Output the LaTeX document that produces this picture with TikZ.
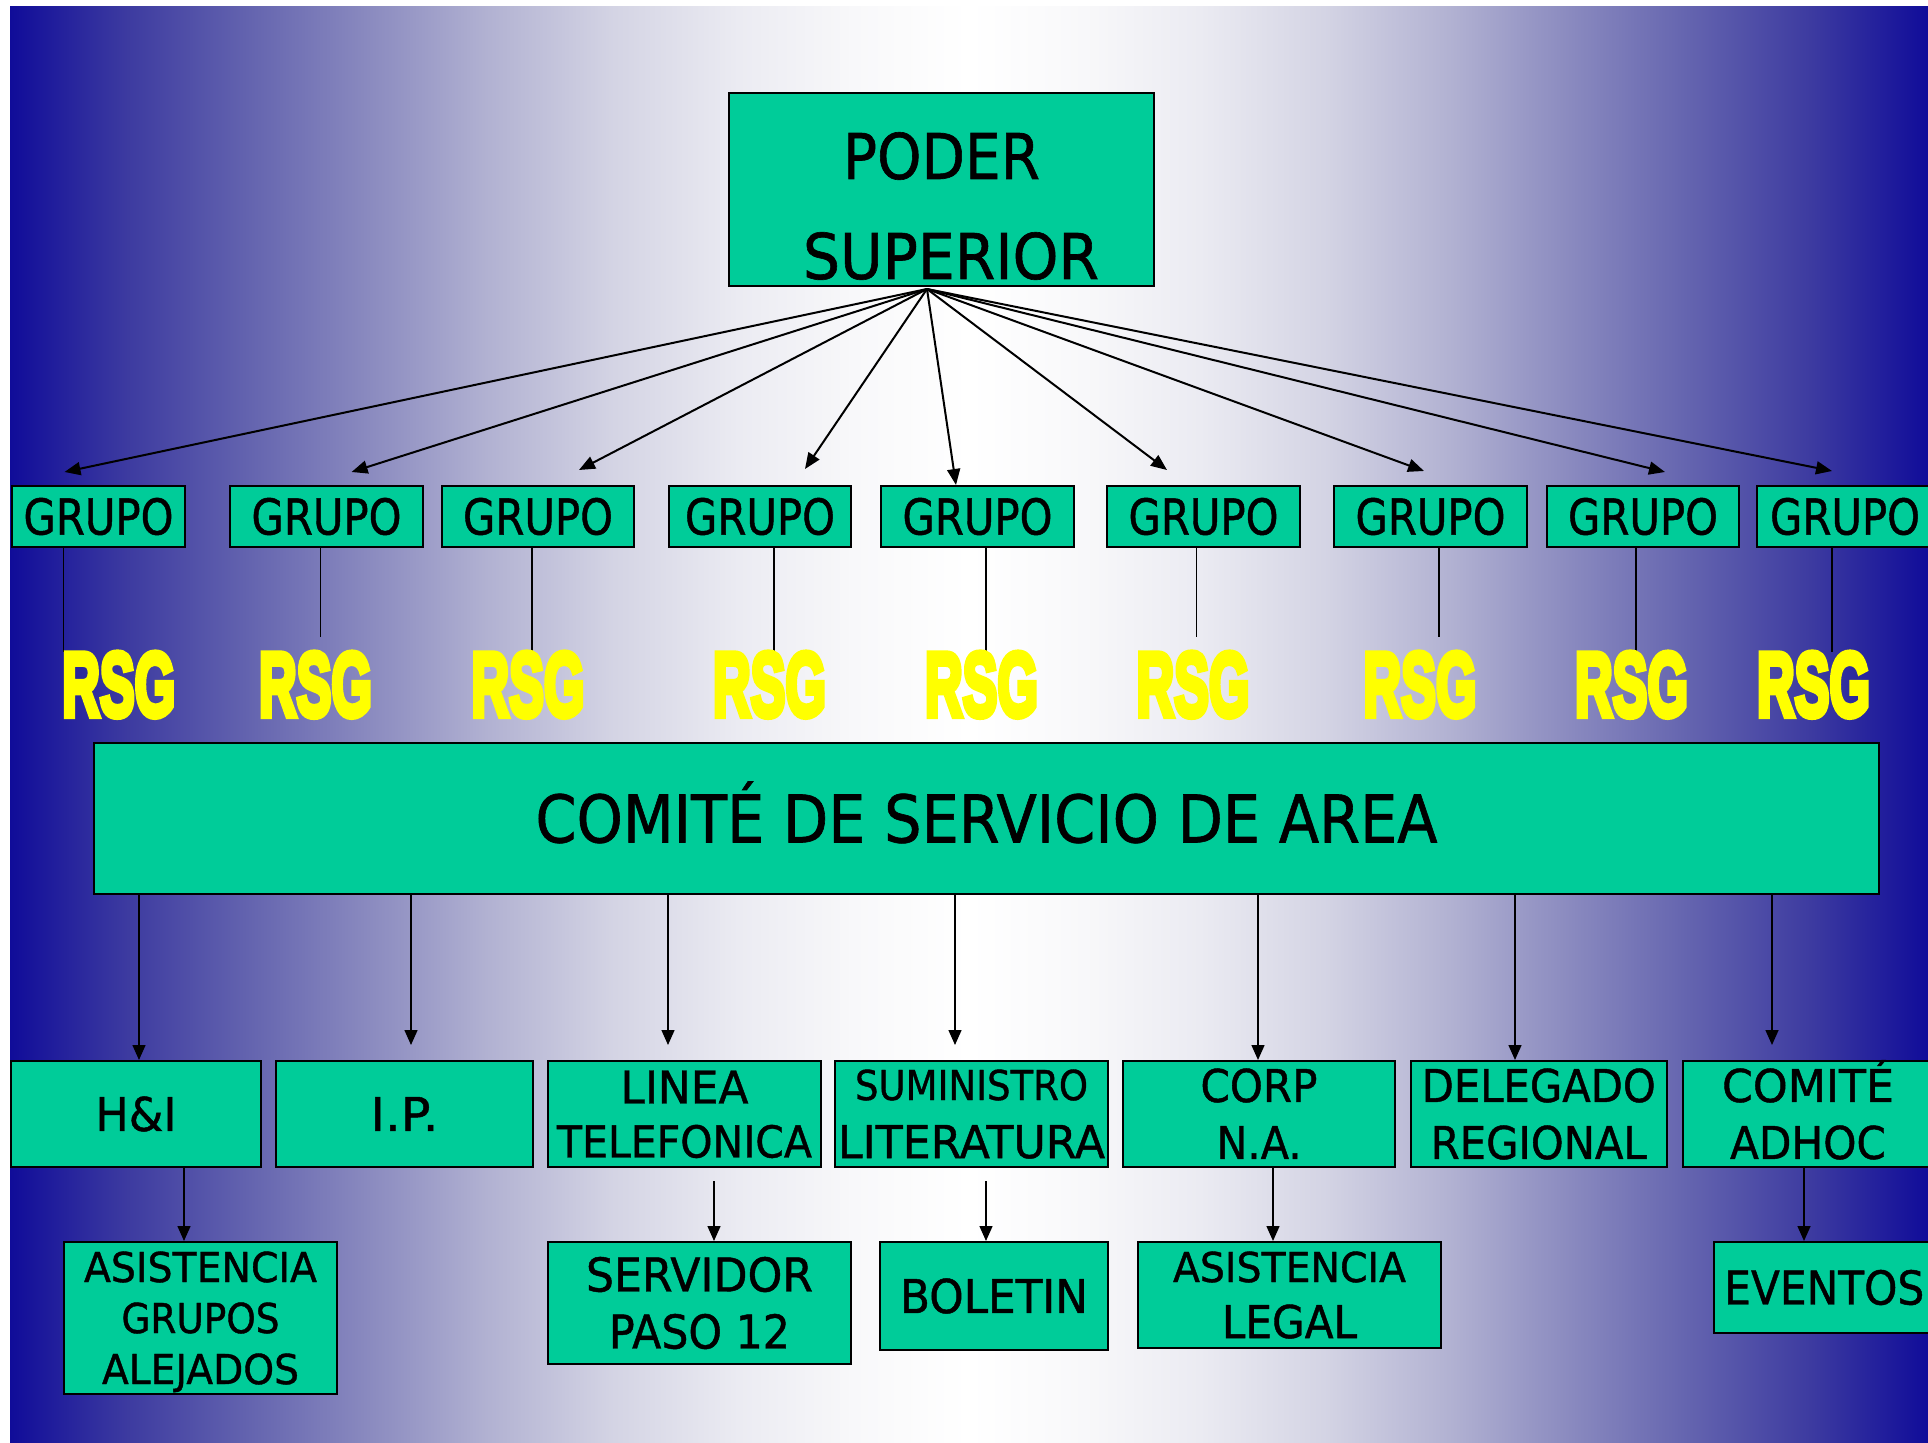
\documentclass[tikz,border=0pt]{standalone}
\usepackage{fontspec}
\usepackage{graphicx}
\setmainfont{DejaVu Sans}[UprightFeatures={FakeBold=1}]
\newfontfamily\rsgfont{Liberation Sans}[BoldFeatures={FakeBold=7}]
\usetikzlibrary{arrows.meta}
\definecolor{boxgreen}{RGB}{0,204,153}
\definecolor{rsgyellow}{RGB}{255,255,0}
\pgfdeclarehorizontalshading{bgshade}{100bp}{
 rgb(0bp)=(0.063,0.047,0.6);
 rgb(25bp)=(0.063,0.047,0.6);
 rgb(28bp)=(0.235,0.227,0.627);
 rgb(31.25bp)=(0.392,0.392,0.686);
 rgb(34.5bp)=(0.549,0.549,0.753);
 rgb(37.5bp)=(0.698,0.698,0.824);
 rgb(40.75bp)=(0.831,0.831,0.894);
 rgb(44bp)=(0.922,0.922,0.949);
 rgb(47bp)=(0.973,0.973,0.98);
 rgb(50bp)=(1,1,1);
 rgb(53bp)=(0.973,0.973,0.98);
 rgb(56bp)=(0.922,0.922,0.949);
 rgb(59.25bp)=(0.831,0.831,0.894);
 rgb(62.5bp)=(0.698,0.698,0.824);
 rgb(65.5bp)=(0.549,0.549,0.753);
 rgb(68.75bp)=(0.392,0.392,0.686);
 rgb(72bp)=(0.235,0.227,0.627);
 rgb(75bp)=(0.063,0.047,0.6);
 rgb(100bp)=(0.063,0.047,0.6)}
% fitted line: width, font size, text
\newcommand\fl[3]{\raisebox{0pt}[0.729\dimexpr#2\relax][0pt]{\resizebox{#1}{\height}{\fontsize{#2}{#2}\selectfont #3}}}
\newcommand\rsgt{\resizebox{56.5pt}{\height}{\rsgfont\bfseries\fontsize{45.4pt}{45.4pt}\selectfont RSG}}
\tikzset{
 box/.style={draw=black, line width=1pt, fill=boxgreen, inner sep=0pt, anchor=north west, align=center, text=black},
 bls/.style={font=\fontsize{20pt}{#1}\selectfont},
 rsg/.style={anchor=base, inner sep=0pt, text=rsgyellow},
 fan/.style={line width=1pt, -{Triangle[length=8pt,width=6.5pt]}},
 arr/.style={line width=0.75pt, -{Triangle[length=7.5pt,width=6.5pt]}},
 stem/.style={line width=0.75pt}
}
\begin{document}
\begin{tikzpicture}[x=0.5pt,y=-0.5pt]
\useasboundingbox (0,0) rectangle (1928,1443);
\clip (0,0) rectangle (1928,1443);
\fill[white] (0,0) rectangle (1928,1443);
\shade[shading=bgshade] (10,7) rectangle (1928,1443);

% top box
\node[box, minimum width=212.5pt, minimum height=96.5pt, bls=50pt] (ps) at (728,92)
 {\rule{0pt}{39.5pt}\fl{98.5pt}{31.55pt}{PODER}\\\hspace*{9.5pt}\fl{148pt}{31.55pt}{SUPERIOR}};

% GRUPO row
\node[box, minimum width=86.5pt, minimum height=30.5pt] (g1) at (11,485) {\fl{75pt}{24.7pt}{GRUPO}};
\node[box, minimum width=96.5pt, minimum height=30.5pt] (g2) at (229,485) {\fl{75pt}{24.7pt}{GRUPO}};
\node[box, minimum width=96pt, minimum height=30.5pt] (g3) at (441,485) {\fl{75pt}{24.7pt}{GRUPO}};
\node[box, minimum width=91pt, minimum height=30.5pt] (g4) at (668,485) {\fl{75pt}{24.7pt}{GRUPO}};
\node[box, minimum width=96.5pt, minimum height=30.5pt] (g5) at (880,485) {\fl{75pt}{24.7pt}{GRUPO}};
\node[box, minimum width=96.5pt, minimum height=30.5pt] (g6) at (1106,485) {\fl{75pt}{24.7pt}{GRUPO}};
\node[box, minimum width=96.5pt, minimum height=30.5pt] (g7) at (1333,485) {\fl{75pt}{24.7pt}{GRUPO}};
\node[box, minimum width=96pt, minimum height=30.5pt] (g8) at (1546,485) {\fl{75pt}{24.7pt}{GRUPO}};
\node[box, minimum width=88pt, minimum height=30.5pt] (g9) at (1756,485) {\fl{75pt}{24.7pt}{GRUPO}};

% fan arrows
\coordinate (apex) at (927,289);
\coordinate (t1) at (64.5,472);
\coordinate (t2) at (351.6,472);
\coordinate (t3) at (579,470);
\coordinate (t4) at (805,469);
\coordinate (t5) at (956,485);
\coordinate (t6) at (1167,470);
\coordinate (t7) at (1424,471);
\coordinate (t8) at (1665,472);
\coordinate (t9) at (1832,471);
\foreach \t in {t1,t2,t3,t4,t6,t7,t8,t9} \draw[fan] (apex) -- (\t);
\draw[fan] (apex) -- (g5.north -| t5);

% stems GRUPO -> RSG
\coordinate (e1) at (63.4,652);
\coordinate (e2) at (320.5,637);
\coordinate (e3) at (532,652);
\coordinate (e4) at (774,652);
\coordinate (e5) at (986,652);
\coordinate (e6) at (1196.5,637);
\coordinate (e7) at (1439,637);
\coordinate (e8) at (1636,652);
\coordinate (e9) at (1832,652);
\draw[stem] (g1.south -| e1) -- (e1);
\draw[stem] (g2.south -| e2) -- (e2);
\draw[stem] (g3.south -| e3) -- (e3);
\draw[stem] (g4.south -| e4) -- (e4);
\draw[stem] (g5.south -| e5) -- (e5);
\draw[stem] (g6.south -| e6) -- (e6);
\draw[stem] (g7.south -| e7) -- (e7);
\draw[stem] (g8.south -| e8) -- (e8);
\draw[stem] (g9.south -| e9) -- (e9);

% RSG labels
\node[rsg] (r1) at (118.75,716) {\rsgt};
\node[rsg] (r2) at (315.5,716) {\rsgt};
\node[rsg] (r3) at (528,716) {\rsgt};
\node[rsg] (r4) at (769.5,716) {\rsgt};
\node[rsg] (r5) at (981.5,716) {\rsgt};
\node[rsg] (r6) at (1193,716) {\rsgt};
\node[rsg] (r7) at (1420,716) {\rsgt};
\node[rsg] (r8) at (1631.5,716) {\rsgt};
\node[rsg] (r9) at (1813.5,716) {\rsgt};

% committee
\node[box, minimum width=892.5pt, minimum height=75.5pt] (cs) at (93,742)
 {\fl{451pt}{32.9pt}{COMITÉ DE SERVICIO DE AREA}};

% bottom row
\node[box, minimum width=125pt, minimum height=53pt] (hi) at (10,1060) {\fl{40.5pt}{23.3pt}{H\&I}};
\node[box, minimum width=128.5pt, minimum height=53pt] (ip) at (275,1060) {\fl{34pt}{23.3pt}{I.P.}};
\node[box, minimum width=136.5pt, minimum height=53pt, bls=27pt] (li) at (547,1060)
 {\fl{64pt}{22.6pt}{LINEA}\\\fl{127.5pt}{22pt}{TELEFONICA}};
\node[box, minimum width=136.5pt, minimum height=53pt, bls=29pt] (su) at (834,1060)
 {\fl{116.5pt}{20.6pt}{SUMINISTRO}\\\fl{133.5pt}{22.6pt}{LITERATURA}};
\node[box, minimum width=136pt, minimum height=53pt, bls=28.5pt] (co) at (1122,1060)
 {\fl{58.5pt}{22.6pt}{CORP}\\\fl{42.5pt}{22.6pt}{N.A.}};
\node[box, minimum width=128.25pt, minimum height=53pt, bls=28.5pt] (de) at (1409.5,1060)
 {\fl{117pt}{22.6pt}{DELEGADO}\\\fl{108pt}{22.6pt}{REGIONAL}};
\node[box, minimum width=125pt, minimum height=53pt, bls=28.5pt] (ad) at (1682,1060)
 {\fl{86pt}{22.6pt}{COMITÉ}\\\fl{78pt}{22.6pt}{ADHOC}};

% third row
\node[box, minimum width=136.5pt, minimum height=76pt, bls=25.5pt] (ag) at (63,1241)
 {\fl{116.5pt}{20.6pt}{ASISTENCIA}\\\fl{79pt}{20.6pt}{GRUPOS}\\\fl{98.5pt}{20.6pt}{ALEJADOS}};
\node[box, minimum width=151.5pt, minimum height=61pt, bls=28.5pt] (sp) at (547,1241)
 {\fl{113.5pt}{23.3pt}{SERVIDOR}\\\fl{90.5pt}{23.3pt}{PASO 12}};
\node[box, minimum width=114pt, minimum height=54pt] (bo) at (879,1241) {\fl{94pt}{23.3pt}{BOLETIN}};
\node[box, minimum width=151.5pt, minimum height=53pt, bls=28pt] (al) at (1137,1241)
 {\fl{116.5pt}{20.6pt}{ASISTENCIA}\\\fl{67.5pt}{22.6pt}{LEGAL}};
\node[box, minimum width=110.75pt, minimum height=45.5pt] (ev) at (1712.5,1241) {\fl{100pt}{23.3pt}{EVENTOS}};

% committee arrows
\coordinate (c1) at (139,1060);
\coordinate (c2) at (411,1045);
\coordinate (c3) at (668,1045);
\coordinate (c4) at (955,1045);
\coordinate (c5) at (1258,1060);
\coordinate (c6) at (1515,1060);
\coordinate (c7) at (1772,1045);
\draw[arr] (cs.south -| c1) -- (hi.north -| c1);
\draw[arr] (cs.south -| c2) -- (c2);
\draw[arr] (cs.south -| c3) -- (c3);
\draw[arr] (cs.south -| c4) -- (c4);
\draw[arr] (cs.south -| c5) -- (co.north -| c5);
\draw[arr] (cs.south -| c6) -- (de.north -| c6);
\draw[arr] (cs.south -| c7) -- (c7);

% third row arrows
\coordinate (d1) at (184,1166);
\coordinate (d2) at (714,1181);
\coordinate (d3) at (986,1181);
\coordinate (d4) at (1273,1166);
\coordinate (d5) at (1804,1166);
\draw[arr] (hi.south -| d1) -- (ag.north -| d1);
\draw[arr] (d2) -- (sp.north -| d2);
\draw[arr] (d3) -- (bo.north -| d3);
\draw[arr] (co.south -| d4) -- (al.north -| d4);
\draw[arr] (ad.south -| d5) -- (ev.north -| d5);
\end{tikzpicture}
\end{document}
